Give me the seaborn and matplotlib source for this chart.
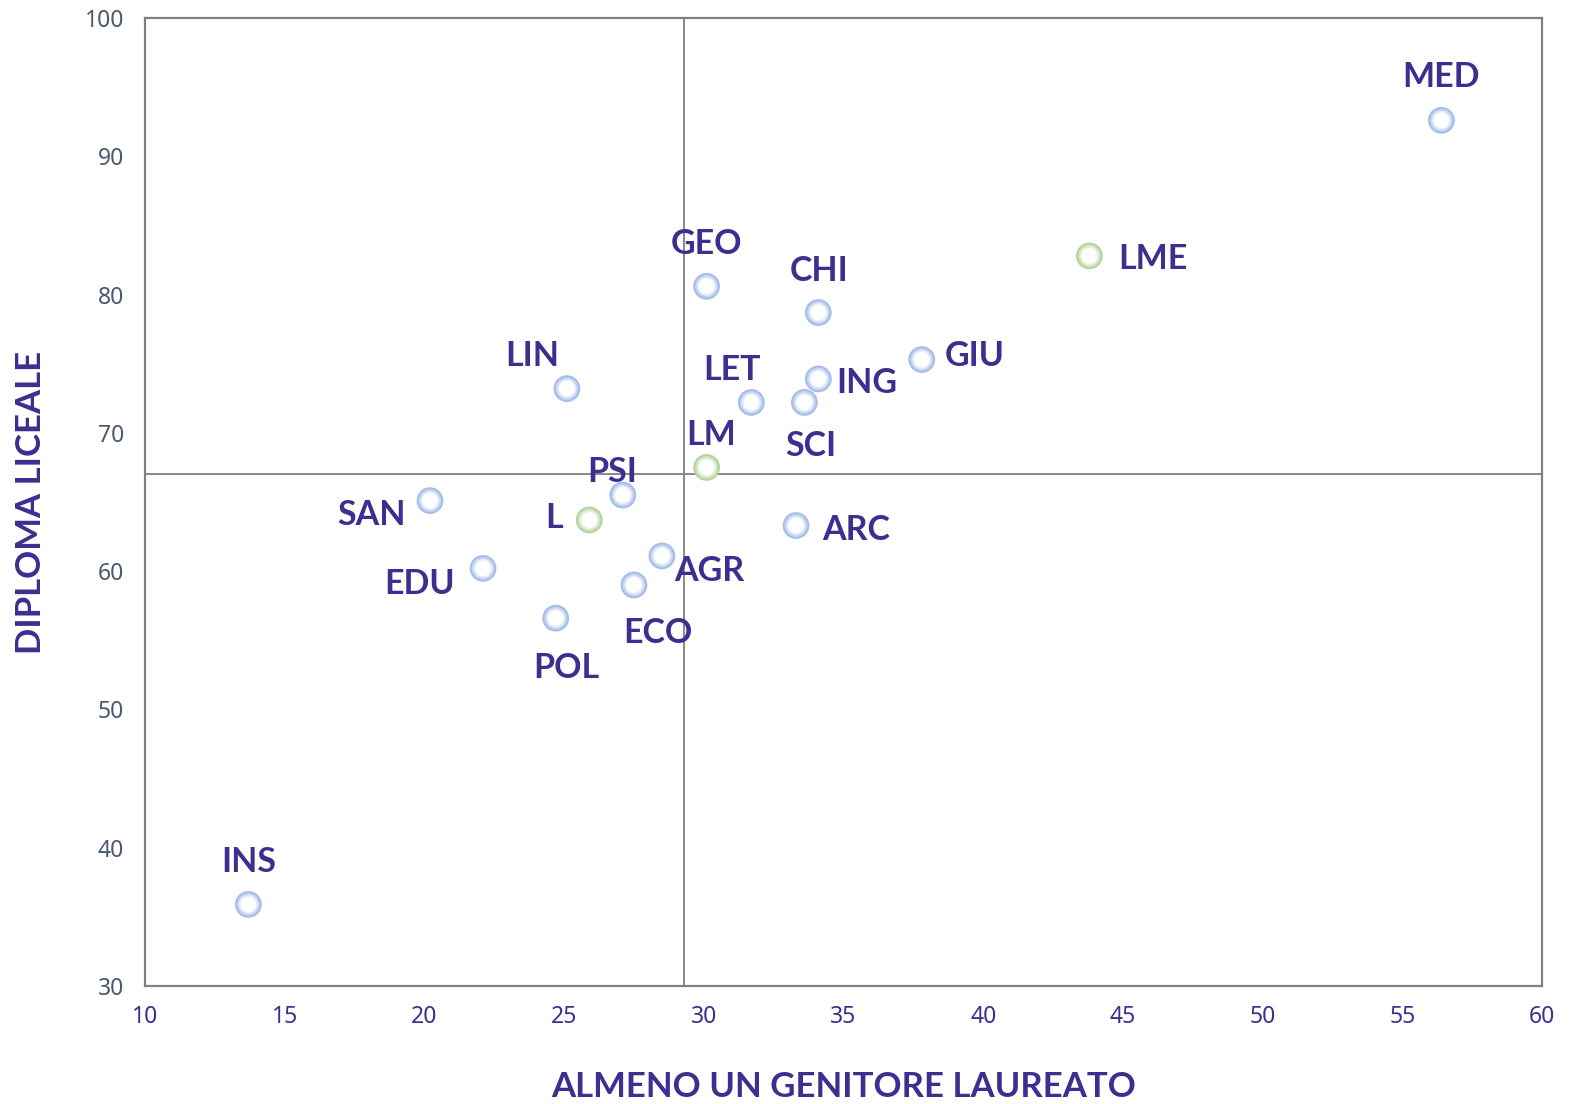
import matplotlib
matplotlib.use("Agg")
import matplotlib.pyplot as plt
import seaborn as sns
import pandas as pd

# ---- data ----
codes = ["MED", "LME", "GEO", "CHI", "GIU", "ING", "LIN", "LET", "SCI", "LM",
         "PSI", "SAN", "L", "ARC", "AGR", "EDU", "ECO", "POL", "INS"]
genitore_laureato = [56.4, 43.8, 30.1, 34.1, 37.8, 34.1, 25.1, 31.7, 33.6, 30.1,
                     27.1, 20.2, 25.9, 33.3, 28.5, 22.1, 27.5, 24.7, 13.7]
diploma_liceale = [92.6, 82.8, 80.6, 78.7, 75.3, 73.9, 73.2, 72.2, 72.2, 67.5,
                   65.5, 65.1, 63.7, 63.3, 61.1, 60.2, 59.0, 56.6, 35.9]
gruppo = ["corso", "aggregato", "corso", "corso", "corso", "corso", "corso", "corso", "corso", "aggregato",
          "corso", "corso", "aggregato", "corso", "corso", "corso", "corso", "corso", "corso"]
media_x = 29.3
media_y = 67.0
x_ticks = [10, 15, 20, 25, 30, 35, 40, 45, 50, 55, 60]
y_ticks = [30, 40, 50, 60, 70, 80, 90, 100]
x_title = "ALMENO UN GENITORE LAUREATO"
y_title = "DIPLOMA LICEALE"

# ---- label layout (pixel offsets, alignment) ----
label_layout = {
    "MED": (0, -46, "center"), "LME": (29, 0, "left"), "GEO": (0, -45, "center"),
    "CHI": (1, -45, "center"), "GIU": (23, -7, "left"), "ING": (18, 1, "left"),
    "LIN": (-35, -36, "center"), "LET": (-19, -35, "center"), "SCI": (6, 41, "center"),
    "LM": (5, -35, "center"), "PSI": (-11, -26, "center"), "SAN": (-24, 11, "right"),
    "L": (-26, -5, "right"), "ARC": (26, 1, "left"), "AGR": (12, 12, "left"),
    "EDU": (-28, 13, "right"), "ECO": (24, 45, "center"), "POL": (11, 47, "center"),
    "INS": (0, -45, "center"),
}

df = pd.DataFrame({"x": genitore_laureato, "y": diploma_liceale, "g": gruppo, "c": codes})

sns.set_style("white")
plt.rcParams["font.family"] = ["Lato", "DejaVu Sans"]

DPI = 100
fig, ax = plt.subplots(figsize=(15.69, 11.04), dpi=DPI)
fig.subplots_adjust(left=145/1569, right=1542/1569, top=1-18/1104, bottom=1-986/1104)

purple = "#3f2d8f"
ax.axvline(media_x, color="#7f7f7f", lw=1.3, zorder=1)
ax.axhline(media_y, color="#7f7f7f", lw=1.3, zorder=1)

layers = [
    (370, {"corso": "#a4bce8", "aggregato": "#b2d49c"}),
    (270, {"corso": "#c3d3f2", "aggregato": "#cde3be"}),
    (190, {"corso": "#e6edfa", "aggregato": "#e8f2e0"}),
    (125, {"corso": "#ffffff", "aggregato": "#ffffff"}),
]
for s, pal in layers:
    sns.scatterplot(data=df, x="x", y="y", hue="g", palette=pal, s=s,
                    linewidth=0, legend=False, ax=ax, zorder=3)

for c, x, y in zip(codes, genitore_laureato, diploma_liceale):
    dx, dy, ha = label_layout[c]
    ax.annotate(c, (x, y), xytext=(dx * 0.72, -(dy + 3) * 0.72), textcoords="offset points",
                ha=ha, va="center", fontsize=24.5, fontweight="bold", color=purple, zorder=4)

ax.set_xlim(10, 60)
ax.set_ylim(30, 100)
ax.set_xticks(x_ticks)
ax.set_yticks(y_ticks)
ax.tick_params(axis="x", length=0, pad=14, labelsize=16.5, labelcolor=purple)
ax.tick_params(axis="y", length=0, pad=15, labelsize=16.5, labelcolor="#4a5870")
for lab in ax.get_xticklabels() + ax.get_yticklabels():
    lab.set_fontfamily(["Noto Sans", "DejaVu Sans"])
for sp in ax.spines.values():
    sp.set_color("#808080")
    sp.set_linewidth(1.6)
ax.set_xlabel(x_title, fontsize=25, fontweight="bold", color=purple)
ax.set_ylabel(y_title, fontsize=25, fontweight="bold", color=purple)
ax.xaxis.set_label_coords(0.5, (986 - 1071) / 968)
ax.yaxis.set_label_coords((47 - 145) / 1397, 0.5)
ax.grid(False)

fig.savefig("out.png", dpi=DPI)
